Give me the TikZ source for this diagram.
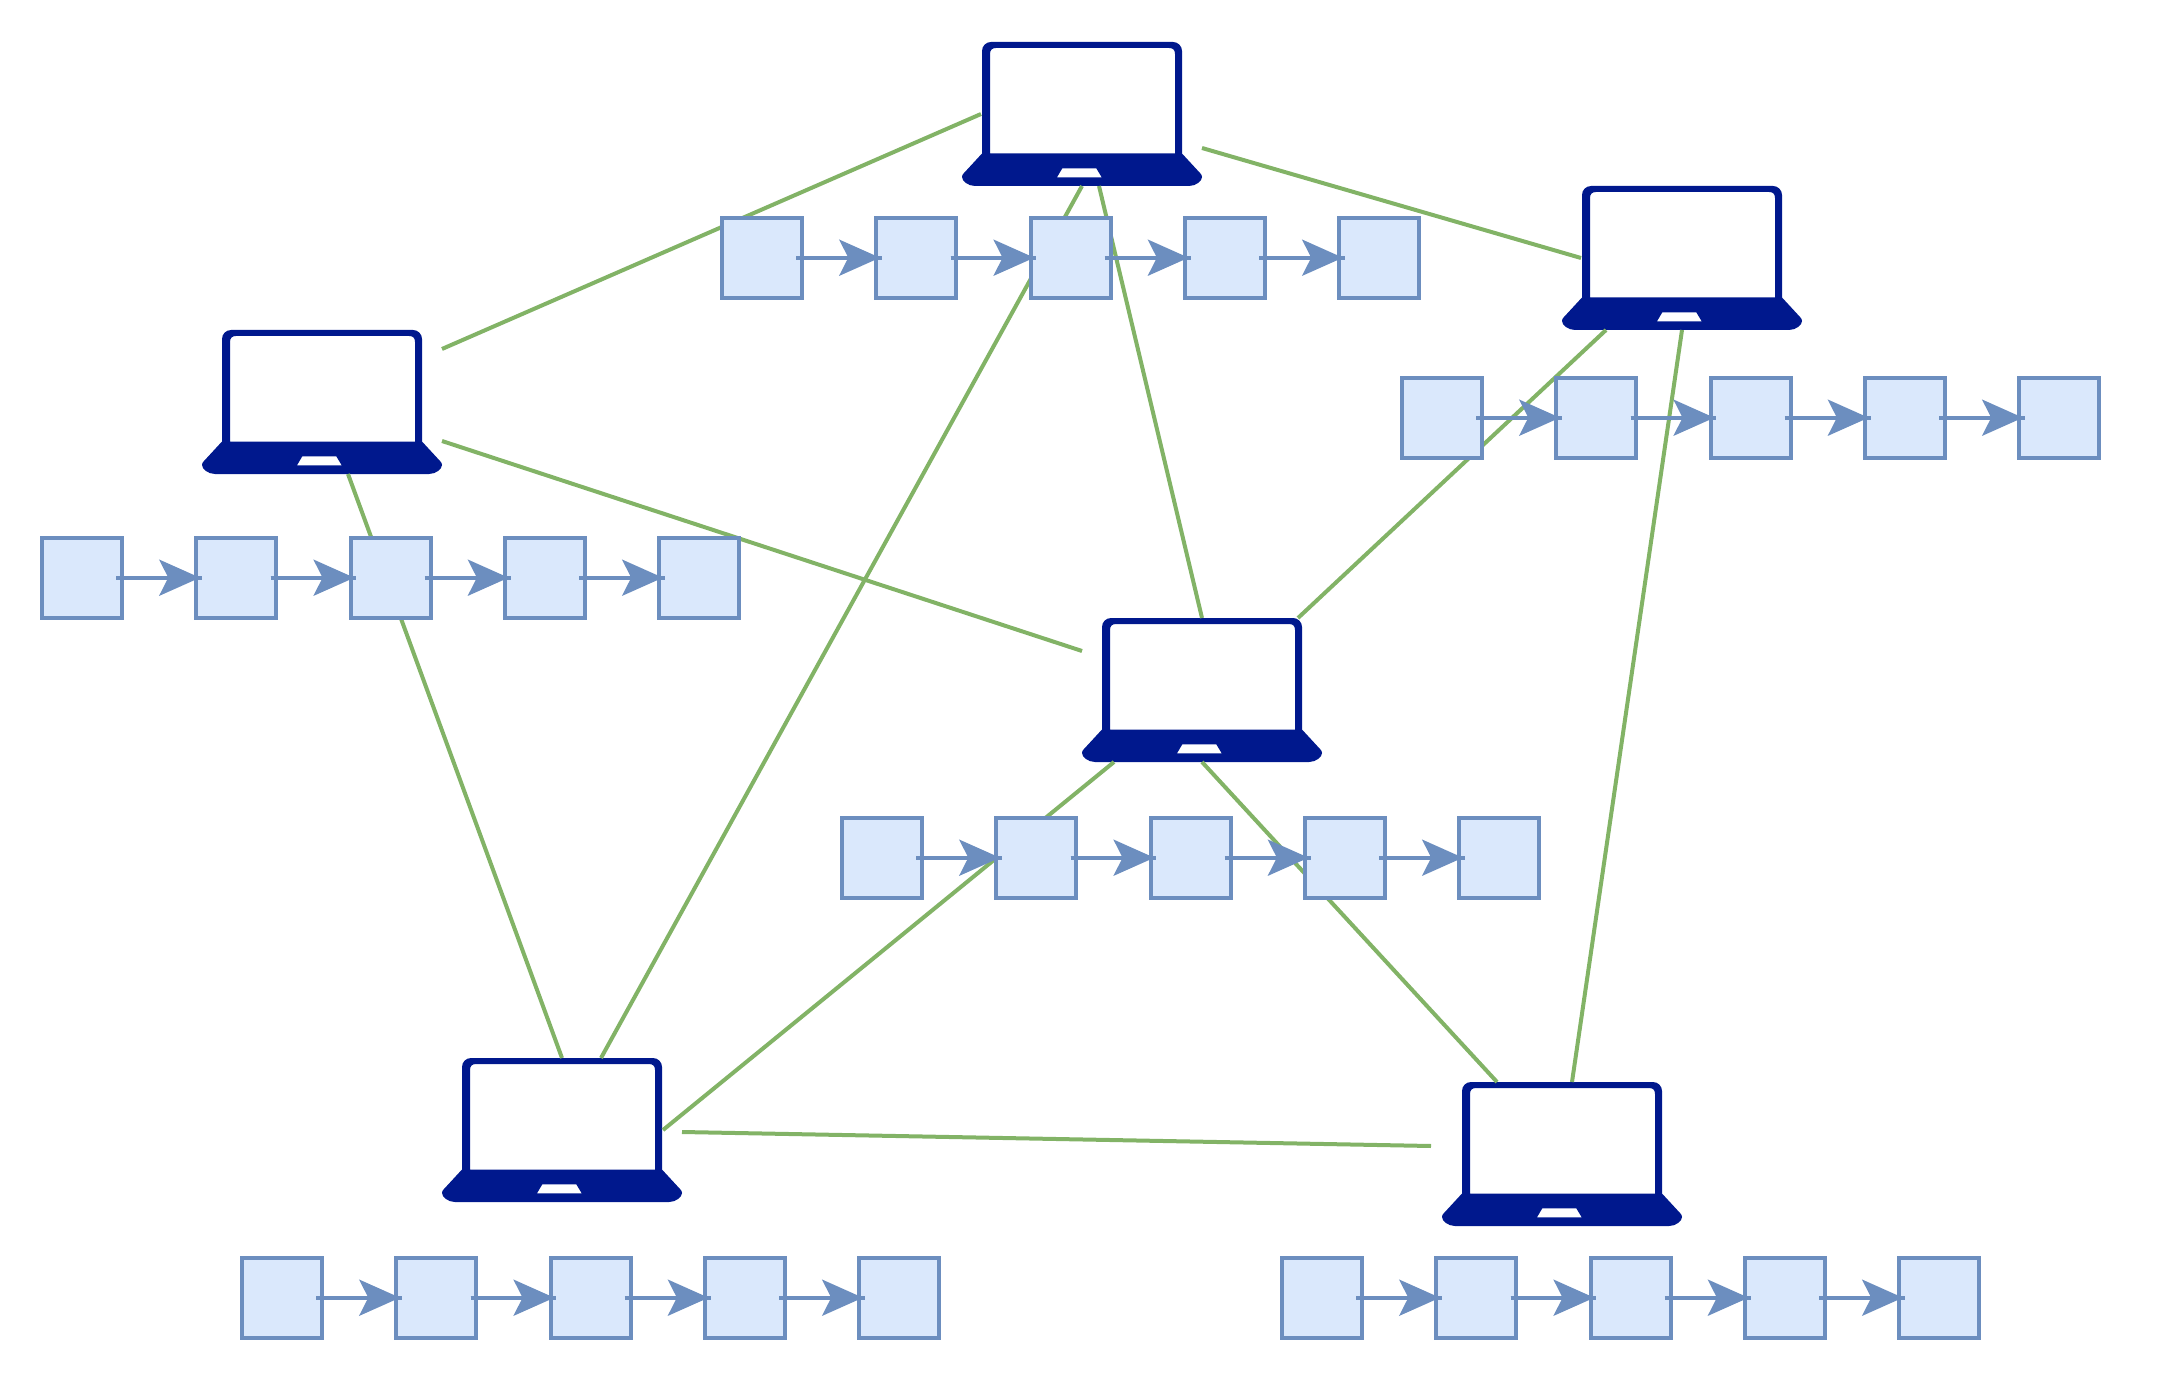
\documentclass[tikz,border=0pt]{standalone}
\usetikzlibrary{arrows.meta,calc}
\definecolor{laptopblue}{HTML}{00188D}
\definecolor{blockfill}{HTML}{DAE8FC}
\definecolor{blockdraw}{HTML}{6C8EBF}
\definecolor{linkgreen}{HTML}{82B366}
\tikzset{
	laptop/.style={minimum width=120pt, minimum height=72pt, inner sep=0pt, outer sep=0pt, path picture={
		\fill[laptopblue, even odd rule, shift={(path picture bounding box.center)}]
			(-100,39.5) -- (-100,-63) .. controls (-100,-68) and (-96,-72) .. (-91,-72) -- (91,-72) .. controls (96,-72) and (100,-68) .. (100,-63) -- (100,39.5) -- (118,59) .. controls (119.5,60.5) and (120,61.5) .. (120,63) .. controls (120,67) and (114,72) .. (107,72) -- (-107,72) .. controls (-114,72) and (-120,67) .. (-120,63) .. controls (-120,61.5) and (-119.5,60.5) .. (-118,59) -- cycle
			(-92,39.5) -- (-92,-60) .. controls (-92,-64) and (-90,-66) .. (-86,-66) -- (87,-66) .. controls (91,-66) and (93,-64) .. (93,-60) -- (93,39.5) -- cycle
			(-19.7,54.3) -- (14.3,54.3) -- (19.7,63.3) -- (-25,63.3) -- cycle;
	}},
	link/.style={draw=linkgreen, line width=2pt},
	block/.style={draw=blockdraw, fill=blockfill, line width=2pt, minimum size=40pt, inner sep=0pt, outer sep=0pt},
	chain/.style={draw=blockdraw, line width=2pt, shorten <=-2.85pt, shorten >=-2.85pt, postaction={draw, shorten >=-1.85pt, -{Stealth[length=20.35pt,width=18pt,inset=4.5pt]}}}
}
\begin{document}
\begin{tikzpicture}[x=0.5pt, y=-0.5pt]
	\useasboundingbox (0,0) rectangle (2164,1380);
	% laptops
	\node[laptop] (lapA) at (1082,114) {};
	\node[laptop] (lapB) at (1682,258) {};
	\node[laptop] (lapC) at (322,402) {};
	\node[laptop] (lapD) at (1202,690) {};
	\node[laptop] (lapE) at (562,1130) {};
	\node[laptop] (lapF) at (1562,1154) {};
	% links
	\draw[link] ($(lapC.east)+(0,-53)$) -- ($(lapA.west)+(19,0)$);
	\draw[link] ($(lapA.east)+(0,34)$) -- ($(lapB.west)+(19,0)$);
	\draw[link] (lapA.south) -- ($(lapE.north)+(39,0)$);
	\draw[link] ($(lapA.south)+(17,0)$) -- (lapD.north);
	\draw[link] ($(lapC.east)+(0,39)$) -- ($(lapD.west)+(0,-39)$);
	\draw[link] ($(lapC.south)+(26,0)$) -- (lapE.north);
	\draw[link] ($(lapB.south)+(-76,0)$) -- ($(lapD.north)+(96,0)$);
	\draw[link] (lapB.south) -- ($(lapF.north)+(10,0)$);
	\draw[link] ($(lapD.south)+(-88,0)$) -- ($(lapE.east)+(-19,0)$);
	\draw[link] (lapD.south) -- ($(lapF.north)+(-65,0)$);
	\draw[link] ($(lapE.east)+(0,2)$) -- ($(lapF.west)+(-11,-8)$);
	% blocks of laptop A
	\node[block] (a1) at (762,257.7) {};
	\node[block] (a2) at (916.3,257.7) {};
	\node[block] (a3) at (1070.6,257.7) {};
	\node[block] (a4) at (1224.9,257.7) {};
	\node[block] (a5) at (1379.2,257.7) {};
	\draw[chain] (a1) -- (a2);
	\draw[chain] (a2) -- (a3);
	\draw[chain] (a3) -- (a4);
	\draw[chain] (a4) -- (a5);
	% blocks of laptop B
	\node[block] (b1) at (1442,417.7) {};
	\node[block] (b2) at (1596.3,417.7) {};
	\node[block] (b3) at (1750.6,417.7) {};
	\node[block] (b4) at (1904.9,417.7) {};
	\node[block] (b5) at (2059.2,417.7) {};
	\draw[chain] (b1) -- (b2);
	\draw[chain] (b2) -- (b3);
	\draw[chain] (b3) -- (b4);
	\draw[chain] (b4) -- (b5);
	% blocks of laptop C
	\node[block] (c1) at (82,577.7) {};
	\node[block] (c2) at (236.3,577.7) {};
	\node[block] (c3) at (390.6,577.7) {};
	\node[block] (c4) at (544.9,577.7) {};
	\node[block] (c5) at (699.2,577.7) {};
	\draw[chain] (c1) -- (c2);
	\draw[chain] (c2) -- (c3);
	\draw[chain] (c3) -- (c4);
	\draw[chain] (c4) -- (c5);
	% blocks of laptop D
	\node[block] (d1) at (882,857.7) {};
	\node[block] (d2) at (1036.3,857.7) {};
	\node[block] (d3) at (1190.6,857.7) {};
	\node[block] (d4) at (1344.9,857.7) {};
	\node[block] (d5) at (1499.2,857.7) {};
	\draw[chain] (d1) -- (d2);
	\draw[chain] (d2) -- (d3);
	\draw[chain] (d3) -- (d4);
	\draw[chain] (d4) -- (d5);
	% blocks of laptop E
	\node[block] (e1) at (282,1297.7) {};
	\node[block] (e2) at (436.3,1297.7) {};
	\node[block] (e3) at (590.6,1297.7) {};
	\node[block] (e4) at (744.9,1297.7) {};
	\node[block] (e5) at (899.2,1297.7) {};
	\draw[chain] (e1) -- (e2);
	\draw[chain] (e2) -- (e3);
	\draw[chain] (e3) -- (e4);
	\draw[chain] (e4) -- (e5);
	% blocks of laptop F
	\node[block] (f1) at (1322,1297.7) {};
	\node[block] (f2) at (1476.3,1297.7) {};
	\node[block] (f3) at (1630.6,1297.7) {};
	\node[block] (f4) at (1784.9,1297.7) {};
	\node[block] (f5) at (1939.2,1297.7) {};
	\draw[chain] (f1) -- (f2);
	\draw[chain] (f2) -- (f3);
	\draw[chain] (f3) -- (f4);
	\draw[chain] (f4) -- (f5);
\end{tikzpicture}
\end{document}
